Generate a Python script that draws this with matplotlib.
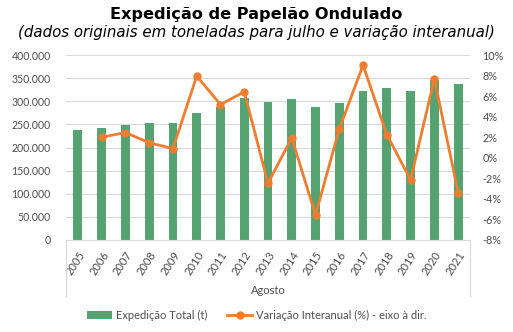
import numpy as np
import matplotlib.pyplot as plt
from matplotlib.lines import Line2D

# Expedição de papelão ondulado - agosto de cada ano
anos = ['2005', '2006', '2007', '2008', '2009', '2010', '2011', '2012', '2013',
        '2014', '2015', '2016', '2017', '2018', '2019', '2020', '2021']
expedicao = [237300, 242300, 248100, 252400, 253200, 274900, 287200, 307400, 298700,
             304500, 287900, 296600, 321900, 329100, 321900, 346500, 336300]
# variação interanual (%), sem valor para 2005
variacao = [np.nan, 2.0, 2.45, 1.47, 0.89, 7.95, 5.18, 6.42, -2.47,
            1.93, -5.56, 2.81, 9.02, 2.25, -2.14, 7.69, -3.38]

verde = '#55A370'
laranja = '#ED7D31'
cinza = '#4D4D4D'

fig = plt.figure(figsize=(5.13, 3.32), dpi=100)
ax = fig.add_axes([66 / 513, 1 - 240 / 332, 404 / 513, 185 / 332])
ax2 = ax.twinx()

x = np.arange(len(anos))
ax.bar(x, expedicao, width=0.37, color=verde, zorder=2, label='Expedição Total (t)')
ax2.plot(x, variacao, color=laranja, lw=2.0, marker='o', ms=5,
         label='Variação Interanual (%) - eixo à dir.')

ax.set_xlim(-0.5, len(anos) - 0.5)
ax.set_ylim(0, 400000)
ax.set_yticks(np.arange(0, 400001, 50000))
ax.set_yticklabels([f'{v:,.0f}'.replace(',', '.') for v in np.arange(0, 400001, 50000)])
ax2.set_ylim(-8, 10)
ax2.set_yticks(np.arange(-8, 11, 2))
ax2.set_yticklabels([f'{v}%' for v in range(-8, 11, 2)])

ax.grid(axis='y', color='#D9D9D9', lw=0.8, zorder=0)
ax.set_axisbelow(True)
for a in (ax, ax2):
    for s in a.spines.values():
        s.set_visible(False)
ax.spines['bottom'].set_visible(True)
ax.spines['bottom'].set_color('#D9D9D9')

font = 'Lato'
ax.set_xticks(x)
ax.set_xticklabels(anos, rotation=57, ha='right', rotation_mode='anchor',
                   fontsize=8, color=cinza, family=font)
ax.tick_params(axis='x', length=0, pad=7)
ax.tick_params(axis='y', length=0, labelsize=7.6, labelcolor=cinza, pad=11)
ax2.tick_params(axis='y', length=0, labelsize=7.8, labelcolor=cinza, pad=9)
for lab in ax.get_yticklabels() + ax2.get_yticklabels():
    lab.set_family(font)

# separadores do eixo de categorias com o rótulo do mês
for xa in (0, 1):
    ax.add_line(Line2D([xa, xa], [0, -56 / 185], transform=ax.transAxes,
                       color='#D9D9D9', lw=0.8, clip_on=False))
fig.text(268 / 513, 1 - 291 / 332, 'Agosto', ha='center', va='center',
         fontsize=8, color=cinza, family=font)

fig.text(0.5, 1 - 14 / 332, 'Expedição de Papelão Ondulado', ha='center', va='center',
         fontsize=11.6, weight='bold', family='DejaVu Sans')
fig.text(0.5, 1 - 32 / 332, '(dados originais em toneladas para julho e variação interanual)',
         ha='center', va='center', fontsize=10.8, style='italic', family='DejaVu Sans')

h1, l1 = ax.get_legend_handles_labels()
h2, l2 = ax2.get_legend_handles_labels()
leg = fig.legend(h1 + h2, l1 + l2, loc='center', bbox_to_anchor=(0.5, 1 - 315 / 332),
                 ncol=2, frameon=False, prop={'family': font, 'size': 8},
                 handlelength=2.3, handletextpad=0.3, columnspacing=1.8)
for t in leg.get_texts():
    t.set_color(cinza)

fig.savefig('out.png', dpi=100)
